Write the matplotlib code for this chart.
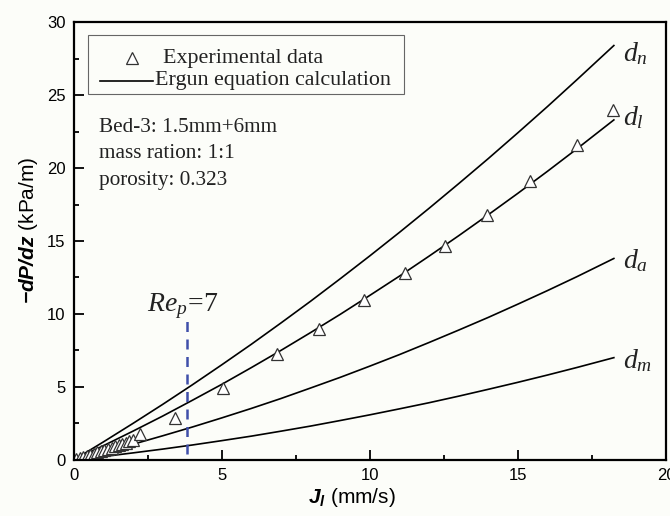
import matplotlib
matplotlib.use("Agg")
import matplotlib.pyplot as plt
from matplotlib.ticker import MultipleLocator
from matplotlib.patches import Rectangle
from matplotlib.lines import Line2D

plt.rcParams["mathtext.fontset"] = "custom"
plt.rcParams["mathtext.rm"] = "Liberation Serif"
plt.rcParams["mathtext.it"] = "Liberation Serif:italic"
plt.rcParams["mathtext.bf"] = "Liberation Sans:italic:bold"

# Ergun curves (J_l in mm/s, -dP/dz in kPa/m)
curve_x = [0.4, 1, 2, 3, 4, 5, 6, 7, 8, 9, 10, 11, 12, 13, 14, 15, 16, 17, 18.24]
d_n = [0.48, 1.22, 2.49, 3.79, 5.13, 6.51, 7.92, 9.38, 10.87, 12.41, 13.98,
       15.59, 17.24, 18.93, 20.65, 22.42, 24.22, 26.07, 28.4]
d_l = [0.38, 0.96, 1.96, 2.99, 4.07, 5.17, 6.32, 7.50, 8.72, 9.97, 11.27,
       12.59, 13.96, 15.36, 16.80, 18.27, 19.78, 21.33, 23.3]
d_a = [0.2, 0.52, 1.06, 1.64, 2.24, 2.87, 3.52, 4.20, 4.92, 5.65, 6.42,
       7.21, 8.04, 8.89, 9.76, 10.67, 11.60, 12.56, 13.8]
d_m = [0.09, 0.22, 0.47, 0.73, 1.01, 1.31, 1.62, 1.96, 2.31, 2.69, 3.08,
       3.49, 3.91, 4.36, 4.83, 5.31, 5.81, 6.33, 7.0]

exp_x = [0.08, 0.2, 0.32, 0.44, 0.56, 0.68, 0.8, 0.92, 1.04, 1.16, 1.28,
         1.4, 1.52, 1.64, 1.76, 1.88, 2.0, 2.23, 3.43, 5.03, 6.87, 8.28,
         9.81, 11.18, 12.53, 13.97, 15.4, 17.0, 18.2]
exp_y = [0.05, 0.12, 0.19, 0.26, 0.34, 0.42, 0.5, 0.58, 0.66, 0.75, 0.83,
         0.92, 1.0, 1.09, 1.18, 1.27, 1.36, 1.76, 2.85, 4.91, 7.24, 8.97,
         10.96, 12.83, 14.68, 16.8, 19.1, 21.6, 24.0]

curve_labels = ["$d_n$", "$d_l$", "$d_a$", "$d_m$"]
label_y = [27.9, 23.5, 13.7, 6.85]

info_lines = ["Bed-3: 1.5mm+6mm", "mass ration: 1:1", "porosity: 0.323"]
info_y = [22.47, 20.68, 18.84]

legend_labels = ["Experimental data", "Ergun equation calculation"]

re_x = 3.83
re_y = [0.4, 9.6]

BG = "#fcfdf9"
MARKER = dict(marker="^", markersize=9, markerfacecolor="white",
              markeredgecolor="#333333", markeredgewidth=0.9)

fig = plt.figure(figsize=(6.7, 5.16), dpi=100, facecolor=BG)
ax = fig.add_axes([0.110, 0.109, 0.884, 0.848], facecolor=BG)

for ys in (d_n, d_l, d_a, d_m):
    ax.plot(curve_x, ys, color="black", linewidth=1.2)

ax.plot(exp_x, exp_y, linestyle="none", **MARKER)

ax.plot([re_x, re_x], re_y, color="#3f4faa", linestyle=(0, (4, 3)), linewidth=1.8)
ax.text(re_x - 0.15, 10.2, "$Re_p\\!=\\!7$", fontsize=20, ha="center",
        va="baseline", color="#222222")

for text, y in zip(curve_labels, label_y):
    ax.text(18.55, y, text, fontsize=20, ha="left", va="center", color="#222222")

for text, y in zip(info_lines, info_y):
    ax.text(0.85, y, text, fontsize=15.3, family="Liberation Serif",
            ha="left", va="baseline", color="#222222")

# legend box drawn by hand, entries are not aligned in the original
ax.add_patch(Rectangle((0.0236, 0.836), 0.5334, 0.134, transform=ax.transAxes,
                       facecolor=BG, edgecolor="#666666", linewidth=0.8, zorder=5))
ax.add_line(Line2D([0.098], [0.918], transform=ax.transAxes, linestyle="none",
                   zorder=6, **MARKER))
ax.add_line(Line2D([0.044, 0.1334], [0.866, 0.866], transform=ax.transAxes,
                   color="black", linewidth=1.2, zorder=6))
ax.text(0.150, 0.918, legend_labels[0], transform=ax.transAxes, fontsize=15.8,
        family="Liberation Serif", ha="left", va="center", zorder=6, color="#222222")
ax.text(0.137, 0.866, legend_labels[1], transform=ax.transAxes, fontsize=15.8,
        family="Liberation Serif", ha="left", va="center", zorder=6, color="#222222")

ax.set_xlim(0, 20)
ax.set_ylim(0, 30)
ax.xaxis.set_major_locator(MultipleLocator(5))
ax.xaxis.set_minor_locator(MultipleLocator(2.5))
ax.yaxis.set_major_locator(MultipleLocator(5))
ax.yaxis.set_minor_locator(MultipleLocator(2.5))
ax.tick_params(which="both", direction="in", top=False, right=False, width=1.3,
               labelsize=12, labelfontfamily="Liberation Sans")
ax.tick_params(which="major", length=7, pad=6)
ax.tick_params(which="minor", length=3.5)
for spine in ax.spines.values():
    spine.set_linewidth(1.6)

fig.text(0.525, 0.036, "$\\mathbf{J}_{\\mathbf{l}}$ (mm/s)", fontsize=15,
         family="Liberation Sans", ha="center", va="center")
fig.text(0.043, 0.554, "$\\mathbf{-dP/dz}$ (kPa/m)", rotation=90, fontsize=15,
         family="Liberation Sans", ha="center", va="center")

fig.savefig("out.png", dpi=100, facecolor=fig.get_facecolor())
